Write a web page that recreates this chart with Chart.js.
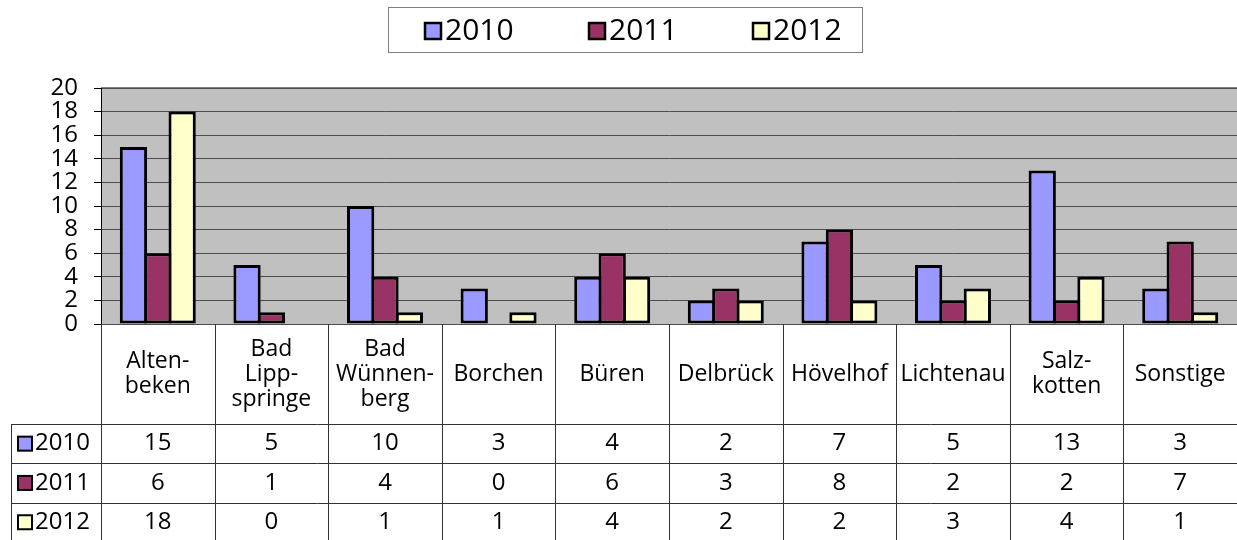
<!DOCTYPE html>
<html lang="de">
<head>
<meta charset="UTF-8">
<title>Chart</title>
<script src="https://cdn.jsdelivr.net/npm/chart.js"></script>
<style>
  html, body { margin: 0; padding: 0; background: #fff; }
  #wrap { width: 1237px; height: 540px; }
</style>
</head>
<body>
<div id="wrap"><canvas id="chart" width="1237" height="540"></canvas></div>
<script>
// categories (line breaks as in the table header)
const categories = [
  ['Alten-', 'beken'], ['Bad', 'Lipp-', 'springe'], ['Bad', 'Wünnen-', 'berg'],
  ['Borchen'], ['Büren'], ['Delbrück'], ['Hövelhof'], ['Lichtenau'],
  ['Salz-', 'kotten'], ['Sonstige']
];
const seriesNames = ['2010', '2011', '2012'];
const values2010 = [15, 5, 10, 3, 4, 2, 7, 5, 13, 3];
const values2011 = [6, 1, 4, 0, 6, 3, 8, 2, 2, 7];
const values2012 = [18, 0, 1, 1, 4, 2, 2, 3, 4, 1];
const yMin = 0, yMax = 20, yStep = 2;

const seriesColors = ['#9999FF', '#993366', '#FFFFCC'];
const FONT = "'Open Sans', sans-serif";
const seriesValues = [values2010, values2011, values2012];

Chart.defaults.font.family = FONT;
Chart.defaults.color = '#000';

// grey plot background
const plotBg = {
  id: 'plotBg',
  beforeDraw(chart) {
    const a = chart.chartArea, ctx = chart.ctx;
    ctx.save();
    ctx.fillStyle = '#C0C0C0';
    ctx.fillRect(a.left, a.top, a.right - a.left, a.bottom - a.top);
    ctx.strokeStyle = '#808080';
    ctx.lineWidth = 2;
    ctx.beginPath();
    ctx.moveTo(a.left, a.top);
    ctx.lineTo(a.right, a.top);
    ctx.stroke();
    ctx.restore();
  }
};

// boxed legend on top
const topLegend = {
  id: 'topLegend',
  afterDraw(chart) {
    const ctx = chart.ctx;
    ctx.save();
    ctx.strokeStyle = '#808080';
    ctx.lineWidth = 1;
    ctx.strokeRect(388.5, 7.5, 474, 45);
    ctx.font = '30px ' + FONT;
    ctx.textBaseline = 'middle';
    ctx.textAlign = 'left';
    seriesNames.forEach((name, i) => {
      const x = 425 + i * 164;
      ctx.fillStyle = seriesColors[i];
      ctx.fillRect(x, 23, 16, 16);
      ctx.strokeStyle = '#000';
      ctx.lineWidth = 2.5;
      ctx.strokeRect(x, 23, 16, 16);
      ctx.fillStyle = '#000';
      ctx.fillText(name, x + 20, 31);
    });
    ctx.restore();
  }
};

// data table below the plot
const dataTable = {
  id: 'dataTable',
  afterDraw(chart) {
    const ctx = chart.ctx, a = chart.chartArea, xs = chart.scales.x;
    const top = a.bottom, headH = 100, rowH = 39.3;
    const leftEdge = 11;
    const colW = (a.right - a.left) / categories.length;
    ctx.save();
    ctx.strokeStyle = '#333';
    ctx.lineWidth = 1;
    ctx.beginPath();
    // vertical lines
    for (let i = 0; i <= categories.length; i++) {
      const x = Math.round(a.left + i * colW) + 0.5;
      ctx.moveTo(x, top);
      ctx.lineTo(x, top + headH + rowH * 3);
    }
    ctx.moveTo(leftEdge + 0.5, top + headH);
    ctx.lineTo(leftEdge + 0.5, top + headH + rowH * 3);
    // horizontal lines
    for (let r = 0; r < 3; r++) {
      const y = Math.round(top + headH + r * rowH) + 0.5;
      ctx.moveTo(leftEdge, y);
      ctx.lineTo(a.right, y);
    }
    ctx.stroke();

    ctx.fillStyle = '#000';
    ctx.textAlign = 'center';
    ctx.textBaseline = 'middle';
    ctx.font = '23px ' + FONT;
    const lineH = 25;
    categories.forEach((lines, i) => {
      const cx = xs.getPixelForValue(i);
      const y0 = top + headH / 2 - (lines.length - 1) * lineH / 2;
      lines.forEach((t, k) => ctx.fillText(t, cx, y0 + k * lineH));
    });

    ctx.font = '24px ' + FONT;
    seriesValues.forEach((vals, r) => {
      const cy = top + headH + r * rowH + rowH / 2;
      vals.forEach((v, i) => ctx.fillText(String(v), xs.getPixelForValue(i), cy));
      // series key
      ctx.fillStyle = seriesColors[r];
      ctx.fillRect(18, cy - 7, 14, 14);
      ctx.strokeStyle = '#000';
      ctx.lineWidth = 2;
      ctx.strokeRect(18, cy - 7, 14, 14);
      ctx.fillStyle = '#000';
      ctx.textAlign = 'left';
      ctx.fillText(seriesNames[r], 35, cy);
      ctx.textAlign = 'center';
    });
    ctx.restore();
  }
};

new Chart(document.getElementById('chart'), {
  type: 'bar',
  data: {
    labels: categories.map(c => c.join('')),
    datasets: seriesNames.map((name, i) => ({
      label: name,
      data: seriesValues[i],
      backgroundColor: seriesColors[i],
      borderColor: '#000',
      borderWidth: 3,
      borderSkipped: false,
      categoryPercentage: 0.643,
      barPercentage: 1.12
    }))
  },
  options: {
    responsive: false,
    animation: false,
    devicePixelRatio: 1,
    layout: { padding: { top: 88, bottom: 216, left: 0, right: 0 } },
    plugins: { legend: { display: false }, tooltip: { enabled: false } },
    scales: {
      x: { display: false },
      y: {
        min: yMin,
        max: yMax,
        ticks: { stepSize: yStep, autoSkip: false, padding: 16, color: '#000', font: { size: 24 } },
        grid: { color: '#4d4d4d', lineWidth: 1, tickLength: 7, tickColor: '#000' },
        border: { display: true, color: '#000', width: 1 },
        afterFit(scale) { scale.width = 101; }
      }
    }
  },
  plugins: [plotBg, topLegend, dataTable]
});
</script>
</body>
</html>
